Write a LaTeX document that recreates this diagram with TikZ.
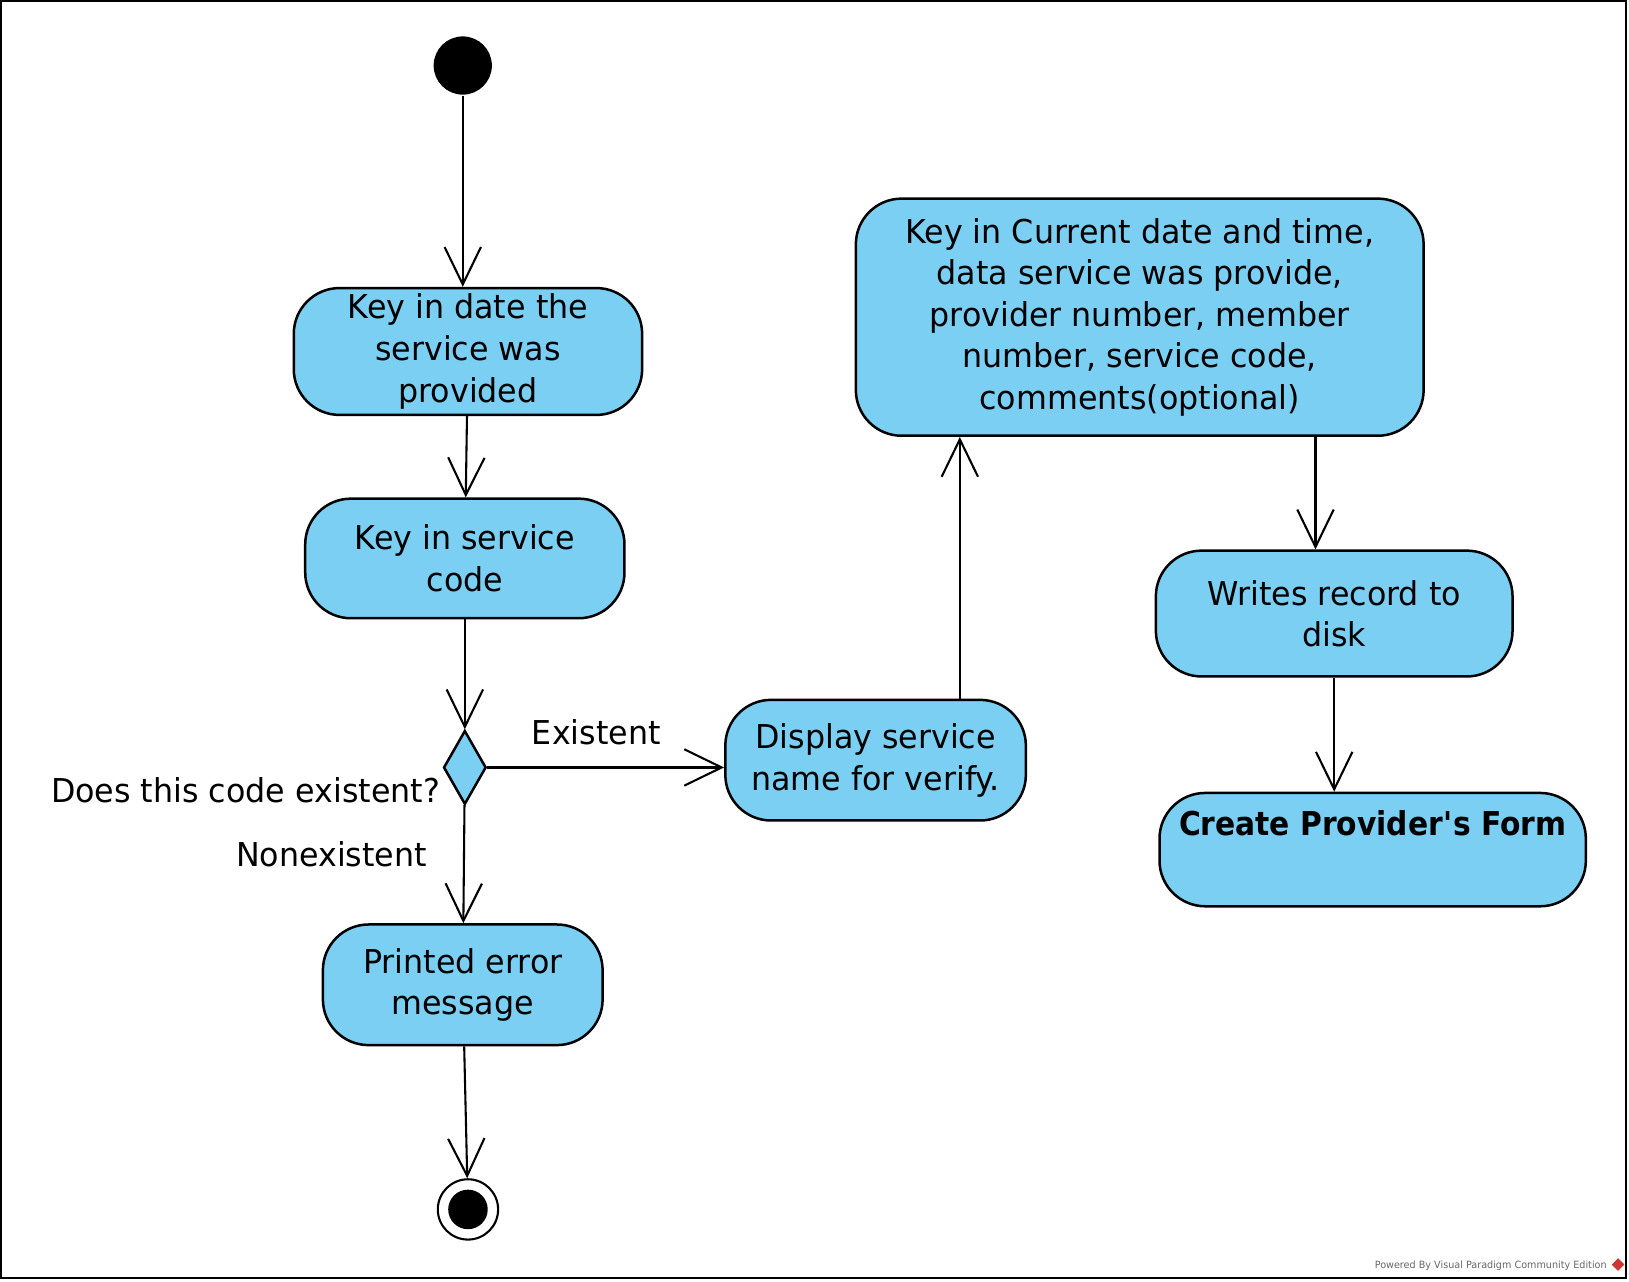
\documentclass[tikz,border=0pt]{standalone}
\usepackage{fontspec}
\setmainfont{DejaVu Sans}[FakeStretch=0.965,BoldFeatures={FakeStretch=0.905}]
\usepackage{tikz}
\usetikzlibrary{arrows.meta,shapes.geometric}

\definecolor{vpblue}{RGB}{122,207,243}
\definecolor{vpred}{RGB}{205,55,50}

\tikzset{
  action/.style={draw, line width=1.2pt, fill=vpblue, rounded corners=22pt,
    align=center, inner sep=0pt},
  decision/.style={draw, line width=1.2pt, fill=vpblue, diamond,
    minimum width=20.5pt, minimum height=35.5pt, inner sep=0pt},
  initial/.style={circle, fill=black, minimum size=28pt, inner sep=0pt},
  final/.style={circle, draw, line width=1pt, fill=white, minimum size=29pt,
    inner sep=0pt}
}

\begin{document}
\begin{tikzpicture}[x=0.5pt,y=-0.5pt,->,>={Straight Barb[length=18pt,width=17.5pt]},
  line width=1pt,font=\fontsize{15.8}{20}\selectfont]

\useasboundingbox (0,0) rectangle (1566.5,1232);
\draw[-,line width=1.2pt] (1.2,1.2) rectangle (1563.5,1229);

\node[initial] (start) at (445,63) {};
\node[action,minimum width=167.5pt,minimum height=61pt] (date)
  [below of=start,node distance=137.5pt,xshift=2.5pt]
  {Key in date the\\service was\\provided};
\node[action,minimum width=153.5pt,minimum height=57.5pt] (code)
  [below of=date,node distance=99.5pt,xshift=-1.5pt]
  {Key in service\\code};
\node[decision] (dec) [below of=code,node distance=100.5pt] {};
\node[action,minimum width=134.5pt,minimum height=58pt] (err)
  [below of=dec,node distance=104.5pt,xshift=-1pt]
  {Printed error\\message};
\node[final] (stop) [below of=err,node distance=108pt,xshift=2.5pt] {};
\fill (stop) circle (9.5pt);

\node[action,minimum width=144.5pt,minimum height=58pt] (disp)
  [right of=dec,node distance=197.5pt,yshift=3.5pt]
  {Display service\\name for verify.};
\node[action,minimum width=273pt,minimum height=114pt] (info) at (1096,305)
  {Key in Current date and time,\\data service was provide,\\provider number, member\\number, service code,\\comments(optional)};
\node[action,minimum width=171.5pt,minimum height=60.5pt] (rec)
  [below of=info,node distance=142.5pt,xshift=93.5pt]
  {Writes record to\\disk};
\node[action,minimum width=205pt,minimum height=54.5pt] (form)
  [below of=rec,node distance=113.5pt,xshift=18.5pt]
  {\textbf{Create Provider\textquotesingle s Form}\\\strut};

\node[anchor=east,inner sep=0pt] (ask) at (424,760) {Does this code existent?};

\path (start) edge (start |- date.north)
  (date) edge (code)
  (code) edge (dec)
  (dec.east) edge node[above=7pt,pos=0.46] {Existent} (dec.east -| disp.west)
  (dec) edge node[left=14pt,pos=0.42] {Nonexistent} (err)
  (err) edge (stop)
  ([xshift=40.5pt]disp.north) edge ([xshift=40.5pt]disp.north |- info.south)
  ([xshift=-9pt]rec.north |- info.south) edge ([xshift=-9pt]rec.north)
  (rec.south) edge (rec.south |- form.north);

% watermark
\node[anchor=east,inner sep=0pt,text=black!60,font=\fontsize{4.8}{5}\selectfont]
  (vp) at (1546,1217) {Powered By Visual Paradigm Community Edition};
\node[diamond,fill=vpred,minimum size=6.5pt,inner sep=0pt] (logo) at (1556,1216) {};

\end{tikzpicture}
\end{document}
